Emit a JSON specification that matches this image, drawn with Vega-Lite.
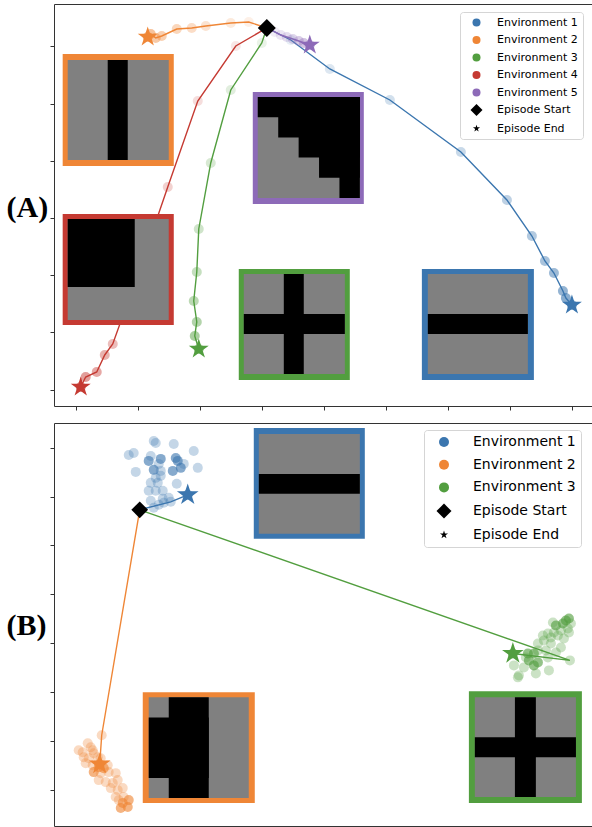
{
  "$schema": "https://vega.github.io/schema/vega-lite/v6.json",
  "padding": {"left": 5, "top": 3, "right": -1, "bottom": 0},
  "background": "white",
  "bounds": "flush",
  "spacing": 17,
  "config": {
    "font": "DejaVu Sans",
    "view": {"stroke": "#333333", "strokeWidth": 1},
    "axis": {"labels": false, "domain": false, "grid": false, "ticks": true, "tickSize": 4, "tickColor": "#333333", "tickWidth": 1}
  },
  "resolve": {
    "scale": {"color": "independent", "shape": "independent", "fill": "independent", "stroke": "independent", "opacity": "independent", "x": "independent", "y": "independent"},
    "legend": {"color": "independent", "shape": "independent"}
  },
  "datasets": {
    "a_traj": [
      {"env": "Environment 1", "step": 0, "x": -0.919, "y": 3.322},
      {"env": "Environment 1", "step": 1, "x": -0.532, "y": 3.112},
      {"env": "Environment 1", "step": 2, "x": 0.097, "y": 2.605},
      {"env": "Environment 1", "step": 3, "x": 1.065, "y": 2.063},
      {"env": "Environment 1", "step": 4, "x": 2.21, "y": 1.154},
      {"env": "Environment 1", "step": 5, "x": 2.952, "y": 0.315},
      {"env": "Environment 1", "step": 6, "x": 3.355, "y": -0.315},
      {"env": "Environment 1", "step": 7, "x": 3.565, "y": -0.752},
      {"env": "Environment 1", "step": 8, "x": 3.71, "y": -0.962},
      {"env": "Environment 1", "step": 9, "x": 3.855, "y": -1.276},
      {"env": "Environment 1", "step": 10, "x": 3.903, "y": -1.399},
      {"env": "Environment 1", "step": 11, "x": 4.0, "y": -1.521},
      {"env": "Environment 2", "step": 0, "x": -0.919, "y": 3.322},
      {"env": "Environment 2", "step": 1, "x": -1.21, "y": 3.427},
      {"env": "Environment 2", "step": 2, "x": -1.5, "y": 3.409},
      {"env": "Environment 2", "step": 3, "x": -1.903, "y": 3.357},
      {"env": "Environment 2", "step": 4, "x": -2.129, "y": 3.322},
      {"env": "Environment 2", "step": 5, "x": -2.371, "y": 3.304},
      {"env": "Environment 2", "step": 6, "x": -2.613, "y": 3.182},
      {"env": "Environment 2", "step": 7, "x": -2.71, "y": 3.147},
      {"env": "Environment 2", "step": 8, "x": -2.79, "y": 3.217},
      {"env": "Environment 2", "step": 9, "x": -2.839, "y": 3.164},
      {"env": "Environment 3", "step": 0, "x": -0.919, "y": 3.322},
      {"env": "Environment 3", "step": 1, "x": -1.0, "y": 3.059},
      {"env": "Environment 3", "step": 2, "x": -1.5, "y": 2.238},
      {"env": "Environment 3", "step": 3, "x": -1.823, "y": 0.962},
      {"env": "Environment 3", "step": 4, "x": -2.016, "y": -0.192},
      {"env": "Environment 3", "step": 5, "x": -2.048, "y": -0.944},
      {"env": "Environment 3", "step": 6, "x": -2.097, "y": -1.451},
      {"env": "Environment 3", "step": 7, "x": -2.048, "y": -1.818},
      {"env": "Environment 3", "step": 8, "x": -2.081, "y": -2.063},
      {"env": "Environment 3", "step": 9, "x": -2.016, "y": -2.29},
      {"env": "Environment 4", "step": 0, "x": -0.919, "y": 3.322},
      {"env": "Environment 4", "step": 1, "x": -1.419, "y": 3.007},
      {"env": "Environment 4", "step": 2, "x": -2.032, "y": 2.045},
      {"env": "Environment 4", "step": 3, "x": -2.516, "y": 0.542},
      {"env": "Environment 4", "step": 4, "x": -2.952, "y": -0.839},
      {"env": "Environment 4", "step": 5, "x": -3.403, "y": -2.203},
      {"env": "Environment 4", "step": 6, "x": -3.532, "y": -2.395},
      {"env": "Environment 4", "step": 7, "x": -3.661, "y": -2.692},
      {"env": "Environment 4", "step": 8, "x": -3.839, "y": -2.78},
      {"env": "Environment 4", "step": 9, "x": -3.919, "y": -2.955},
      {"env": "Environment 5", "step": 0, "x": -0.919, "y": 3.322},
      {"env": "Environment 5", "step": 1, "x": -0.79, "y": 3.252},
      {"env": "Environment 5", "step": 2, "x": -0.694, "y": 3.199},
      {"env": "Environment 5", "step": 3, "x": -0.597, "y": 3.164},
      {"env": "Environment 5", "step": 4, "x": -0.5, "y": 3.129},
      {"env": "Environment 5", "step": 5, "x": -0.403, "y": 3.094},
      {"env": "Environment 5", "step": 6, "x": -0.323, "y": 3.059},
      {"env": "Environment 5", "step": 7, "x": -0.226, "y": 3.024}
    ],
    "a_start": [{"env": "Episode Start", "x": -0.919, "y": 3.322}],
    "a_inset": [
      {"part": "border", "env": "Environment 2", "x": -4.21, "x2": -2.419, "y": 2.867, "y2": 0.909},
      {"part": "grey", "x": -4.129, "x2": -2.5, "y": 2.762, "y2": 1.014},
      {"part": "black", "x": -3.484, "x2": -3.161, "y": 2.762, "y2": 1.014},
      {"part": "border", "env": "Environment 4", "x": -4.21, "x2": -2.419, "y": 0.07, "y2": -1.871},
      {"part": "grey", "x": -4.129, "x2": -2.5, "y": -0.017, "y2": -1.783},
      {"part": "black", "x": -4.129, "x2": -3.048, "y": -0.017, "y2": -1.206},
      {"part": "border", "env": "Environment 5", "x": -1.145, "x2": 0.645, "y": 2.203, "y2": 0.245},
      {"part": "grey", "x": -1.065, "x2": 0.581, "y": 2.115, "y2": 0.35},
      {"part": "black", "x": -1.065, "x2": 0.581, "y": 2.115, "y2": 1.762},
      {"part": "black", "x": -0.735, "x2": 0.581, "y": 2.115, "y2": 1.409},
      {"part": "black", "x": -0.406, "x2": 0.581, "y": 2.115, "y2": 1.056},
      {"part": "black", "x": -0.077, "x2": 0.581, "y": 2.115, "y2": 0.703},
      {"part": "black", "x": 0.252, "x2": 0.581, "y": 2.115, "y2": 0.35},
      {"part": "border", "env": "Environment 3", "x": -1.371, "x2": 0.419, "y": -0.892, "y2": -2.832},
      {"part": "grey", "x": -1.29, "x2": 0.339, "y": -0.979, "y2": -2.727},
      {"part": "black", "x": -0.645, "x2": -0.323, "y": -0.979, "y2": -2.727},
      {"part": "black", "x": -1.29, "x2": 0.339, "y": -1.678, "y2": -2.028},
      {"part": "border", "env": "Environment 1", "x": 1.581, "x2": 3.387, "y": -0.892, "y2": -2.832},
      {"part": "grey", "x": 1.677, "x2": 3.29, "y": -0.979, "y2": -2.727},
      {"part": "black", "x": 1.677, "x2": 3.29, "y": -1.678, "y2": -2.028}
    ],
    "b_traj": [
      {"env": "Environment 1", "step": 0, "x": -2.968, "y": 2.729},
      {"env": "Environment 1", "step": 1, "x": -2.468, "y": 2.892},
      {"env": "Environment 1", "step": 2, "x": -2.742, "y": 4.134},
      {"env": "Environment 1", "step": 3, "x": -2.71, "y": 4.094},
      {"env": "Environment 1", "step": 4, "x": -2.419, "y": 4.073},
      {"env": "Environment 1", "step": 5, "x": -3.145, "y": 3.849},
      {"env": "Environment 1", "step": 6, "x": -3.065, "y": 3.89},
      {"env": "Environment 1", "step": 7, "x": -2.097, "y": 3.931},
      {"env": "Environment 1", "step": 8, "x": -2.79, "y": 3.829},
      {"env": "Environment 1", "step": 9, "x": -2.661, "y": 3.666},
      {"env": "Environment 1", "step": 10, "x": -2.258, "y": 3.666},
      {"env": "Environment 1", "step": 11, "x": -2.629, "y": 3.523},
      {"env": "Environment 1", "step": 12, "x": -2.032, "y": 3.585},
      {"env": "Environment 1", "step": 13, "x": -3.032, "y": 3.503},
      {"env": "Environment 1", "step": 14, "x": -2.71, "y": 3.381},
      {"env": "Environment 1", "step": 15, "x": -2.629, "y": 3.422},
      {"env": "Environment 1", "step": 16, "x": -2.79, "y": 3.279},
      {"env": "Environment 1", "step": 17, "x": -2.677, "y": 3.279},
      {"env": "Environment 1", "step": 18, "x": -2.371, "y": 3.259},
      {"env": "Environment 1", "step": 19, "x": -2.823, "y": 3.116},
      {"env": "Environment 1", "step": 20, "x": -2.71, "y": 3.116},
      {"env": "Environment 1", "step": 21, "x": -2.597, "y": 3.116},
      {"env": "Environment 1", "step": 22, "x": -2.79, "y": 2.912},
      {"env": "Environment 1", "step": 23, "x": -2.597, "y": 2.953},
      {"env": "Environment 1", "step": 24, "x": -2.5, "y": 2.974},
      {"env": "Environment 1", "step": 25, "x": -2.661, "y": 2.831},
      {"env": "Environment 1", "step": 26, "x": -2.581, "y": 2.872},
      {"env": "Environment 1", "step": 27, "x": -2.742, "y": 2.77},
      {"env": "Environment 1", "step": 28, "x": -2.823, "y": 3.727},
      {"env": "Environment 1", "step": 29, "x": -2.629, "y": 3.768},
      {"env": "Environment 1", "step": 30, "x": -2.387, "y": 3.788},
      {"env": "Environment 1", "step": 31, "x": -2.355, "y": 3.727},
      {"env": "Environment 1", "step": 32, "x": -2.742, "y": 3.544},
      {"env": "Environment 1", "step": 33, "x": -2.435, "y": 3.523},
      {"env": "Environment 1", "step": 34, "x": -2.306, "y": 3.585},
      {"env": "Environment 1", "step": 35, "x": -2.194, "y": 3.035},
      {"env": "Environment 2", "step": 0, "x": -2.968, "y": 2.729},
      {"env": "Environment 2", "step": 1, "x": -3.581, "y": -1.874},
      {"env": "Environment 2", "step": 2, "x": -3.952, "y": -2.179},
      {"env": "Environment 2", "step": 3, "x": -3.887, "y": -2.22},
      {"env": "Environment 2", "step": 4, "x": -3.806, "y": -2.037},
      {"env": "Environment 2", "step": 5, "x": -3.758, "y": -2.118},
      {"env": "Environment 2", "step": 6, "x": -3.726, "y": -2.179},
      {"env": "Environment 2", "step": 7, "x": -3.871, "y": -2.322},
      {"env": "Environment 2", "step": 8, "x": -3.79, "y": -2.342},
      {"env": "Environment 2", "step": 9, "x": -3.71, "y": -2.24},
      {"env": "Environment 2", "step": 10, "x": -3.645, "y": -2.322},
      {"env": "Environment 2", "step": 11, "x": -3.597, "y": -2.342},
      {"env": "Environment 2", "step": 12, "x": -3.839, "y": -2.444},
      {"env": "Environment 2", "step": 13, "x": -3.726, "y": -2.485},
      {"env": "Environment 2", "step": 14, "x": -3.484, "y": -2.485},
      {"env": "Environment 2", "step": 15, "x": -3.597, "y": -2.648},
      {"env": "Environment 2", "step": 16, "x": -3.468, "y": -2.627},
      {"env": "Environment 2", "step": 17, "x": -3.355, "y": -2.648},
      {"env": "Environment 2", "step": 18, "x": -3.629, "y": -2.79},
      {"env": "Environment 2", "step": 19, "x": -3.516, "y": -2.831},
      {"env": "Environment 2", "step": 20, "x": -3.403, "y": -2.851},
      {"env": "Environment 2", "step": 21, "x": -3.323, "y": -2.79},
      {"env": "Environment 2", "step": 22, "x": -3.435, "y": -2.953},
      {"env": "Environment 2", "step": 23, "x": -3.323, "y": -2.994},
      {"env": "Environment 2", "step": 24, "x": -3.242, "y": -2.953},
      {"env": "Environment 2", "step": 25, "x": -3.355, "y": -3.136},
      {"env": "Environment 2", "step": 26, "x": -3.306, "y": -3.198},
      {"env": "Environment 2", "step": 27, "x": -3.226, "y": -3.136},
      {"env": "Environment 2", "step": 28, "x": -3.274, "y": -3.361},
      {"env": "Environment 2", "step": 29, "x": -3.161, "y": -3.34},
      {"env": "Environment 2", "step": 30, "x": -3.242, "y": -3.259},
      {"env": "Environment 2", "step": 31, "x": -3.145, "y": -3.198},
      {"env": "Environment 2", "step": 32, "x": -3.629, "y": -2.525},
      {"env": "Environment 2", "step": 33, "x": -3.71, "y": -2.627},
      {"env": "Environment 2", "step": 34, "x": -3.548, "y": -2.546},
      {"env": "Environment 2", "step": 35, "x": -3.613, "y": -2.464},
      {"env": "Environment 3", "step": 0, "x": -2.968, "y": 2.729},
      {"env": "Environment 3", "step": 1, "x": 3.968, "y": -0.346},
      {"env": "Environment 3", "step": 2, "x": 3.694, "y": 0.428},
      {"env": "Environment 3", "step": 3, "x": 3.984, "y": 0.407},
      {"env": "Environment 3", "step": 4, "x": 3.935, "y": 0.305},
      {"env": "Environment 3", "step": 5, "x": 3.823, "y": 0.265},
      {"env": "Environment 3", "step": 6, "x": 3.71, "y": 0.224},
      {"env": "Environment 3", "step": 7, "x": 3.613, "y": 0.204},
      {"env": "Environment 3", "step": 8, "x": 3.532, "y": 0.163},
      {"env": "Environment 3", "step": 9, "x": 3.661, "y": 0.122},
      {"env": "Environment 3", "step": 10, "x": 3.774, "y": 0.163},
      {"env": "Environment 3", "step": 11, "x": 3.871, "y": 0.102},
      {"env": "Environment 3", "step": 12, "x": 3.952, "y": 0.224},
      {"env": "Environment 3", "step": 13, "x": 3.548, "y": 0.061},
      {"env": "Environment 3", "step": 14, "x": 3.452, "y": 0.0},
      {"env": "Environment 3", "step": 15, "x": 3.661, "y": 0.0},
      {"env": "Environment 3", "step": 16, "x": 3.823, "y": -0.081},
      {"env": "Environment 3", "step": 17, "x": 3.452, "y": -0.143},
      {"env": "Environment 3", "step": 18, "x": 3.581, "y": -0.143},
      {"env": "Environment 3", "step": 19, "x": 3.742, "y": -0.183},
      {"env": "Environment 3", "step": 20, "x": 3.613, "y": -0.285},
      {"env": "Environment 3", "step": 21, "x": 3.065, "y": -0.448},
      {"env": "Environment 3", "step": 22, "x": 3.226, "y": -0.489},
      {"env": "Environment 3", "step": 23, "x": 3.629, "y": -0.55},
      {"env": "Environment 3", "step": 24, "x": 3.145, "y": -0.652},
      {"env": "Environment 3", "step": 25, "x": 3.258, "y": -0.285},
      {"env": "Environment 3", "step": 26, "x": 3.419, "y": -0.611},
      {"env": "Environment 3", "step": 27, "x": 3.129, "y": -0.692},
      {"env": "Environment 3", "step": 28, "x": 3.903, "y": 0.468},
      {"env": "Environment 3", "step": 29, "x": 3.952, "y": 0.509},
      {"env": "Environment 3", "step": 30, "x": 3.855, "y": 0.407},
      {"env": "Environment 3", "step": 31, "x": 3.742, "y": 0.367},
      {"env": "Environment 3", "step": 32, "x": 3.29, "y": -0.204},
      {"env": "Environment 3", "step": 33, "x": 3.387, "y": -0.204},
      {"env": "Environment 3", "step": 34, "x": 3.306, "y": -0.346},
      {"env": "Environment 3", "step": 35, "x": 3.452, "y": -0.387},
      {"env": "Environment 3", "step": 36, "x": 3.387, "y": -0.448},
      {"env": "Environment 3", "step": 37, "x": 3.048, "y": -0.204}
    ],
    "b_start": [{"env": "Episode Start", "x": -2.968, "y": 2.729}],
    "b_inset": [
      {"part": "border", "env": "Environment 1", "x": -1.129, "x2": 0.661, "y": 4.399, "y2": 2.138},
      {"part": "grey", "x": -1.048, "x2": 0.581, "y": 4.277, "y2": 2.24},
      {"part": "black", "x": -1.048, "x2": 0.581, "y": 3.462, "y2": 3.055},
      {"part": "border", "env": "Environment 2", "x": -2.919, "x2": -1.113, "y": -0.998, "y2": -3.259},
      {"part": "grey", "x": -2.823, "x2": -1.21, "y": -1.1, "y2": -3.157},
      {"part": "black", "x": -2.823, "x2": -1.855, "y": -1.511, "y2": -2.745},
      {"part": "black", "x": -2.5, "x2": -1.855, "y": -1.1, "y2": -3.157},
      {"part": "border", "env": "Environment 3", "x": 2.339, "x2": 4.161, "y": -0.978, "y2": -3.259},
      {"part": "grey", "x": 2.435, "x2": 4.065, "y": -1.1, "y2": -3.136},
      {"part": "black", "x": 3.081, "x2": 3.419, "y": -1.1, "y2": -3.136},
      {"part": "black", "x": 2.435, "x2": 4.065, "y": -1.914, "y2": -2.322}
    ]
  },
  "vconcat": [
    {
      "width": 539,
      "height": 402,
      "encoding": {
        "x": {"field": "x", "type": "quantitative", "scale": {"domain": [-4.35, 4.34], "nice": false, "zero": false}, "axis": {"values": [-4, -3, -2, -1, 0, 1, 2, 3, 4], "title": null}},
        "y": {"field": "y", "type": "quantitative", "scale": {"domain": [-3.287, 3.741], "nice": false, "zero": false}, "axis": {"values": [-3, -2, -1, 0, 1, 2, 3], "title": "(A)", "titleAngle": 0, "titleFont": "Liberation Serif", "titleFontWeight": "bold", "titleFontSize": 30, "titleAlign": "left", "titleBaseline": "middle", "titleColor": "black", "titleX": -48, "titleY": 203.5}}
      },
      "layer": [
        {
          "data": {"name": "a_traj"},
          "mark": {"type": "line", "strokeWidth": 1.4},
          "encoding": {
            "stroke": {"field": "env", "type": "nominal", "scale": {"domain": ["Environment 1", "Environment 2", "Environment 3", "Environment 4", "Environment 5"], "range": ["#3b76af", "#ef8636", "#529e3f", "#c53a32", "#8d6ab8"]}, "legend": null},
            "order": {"field": "step", "type": "quantitative"}
          }
        },
        {
          "data": {"name": "a_traj"},
          "transform": [{"filter": "datum.step > 0"}],
          "mark": {"type": "point", "filled": true, "size": 100, "strokeWidth": 0},
          "encoding": {
            "color": {"field": "env", "type": "nominal", "scale": {"domain": ["Environment 1", "Environment 2", "Environment 3", "Environment 4", "Environment 5", "Episode Start", "Episode End"], "range": ["#3b76af", "#ef8636", "#529e3f", "#c53a32", "#8d6ab8", "#000000", "#000000"]},
              "legend": {"orient": "none", "legendX": 406, "legendY": 8, "title": null, "fillColor": "white", "strokeColor": "#d5d5d5", "cornerRadius": 3, "padding": 5, "labelFont": "DejaVu Sans", "labelFontSize": 11, "labelColor": "black", "rowPadding": 5.5, "labelOffset": 15, "symbolOffset": 6, "symbolOpacity": 1, "symbolStrokeWidth": 0, "symbolSize": 64,
                "encode": {"symbols": {"update": {"size": {"signal": "datum.value === 'Episode Start' ? 144 : datum.value === 'Episode End' ? 55 : 64"}}}}}},
            "shape": {"field": "env", "type": "nominal", "scale": {"domain": ["Environment 1", "Environment 2", "Environment 3", "Environment 4", "Environment 5", "Episode Start", "Episode End"], "range": ["circle", "circle", "circle", "circle", "circle", "diamond", "M0,-1L0.225,-0.309L0.951,-0.309L0.363,0.118L0.588,0.809L0,0.382L-0.588,0.809L-0.363,0.118L-0.951,-0.309L-0.225,-0.309Z"]}},
            "opacity": {"field": "step", "type": "quantitative", "scale": {"domain": [1, 10], "range": [0.12, 0.6], "clamp": true}, "legend": null}
          }
        },
        {
          "data": {"name": "a_traj"},
          "transform": [
            {"joinaggregate": [{"op": "max", "field": "step", "as": "last"}], "groupby": ["env"]},
            {"filter": "datum.step === datum.last"}
          ],
          "mark": {"type": "point", "filled": true, "size": 440, "strokeWidth": 0, "opacity": 1, "shape": "M0,-1L0.225,-0.309L0.951,-0.309L0.363,0.118L0.588,0.809L0,0.382L-0.588,0.809L-0.363,0.118L-0.951,-0.309L-0.225,-0.309Z"},
          "encoding": {
            "fill": {"field": "env", "type": "nominal", "scale": {"domain": ["Environment 1", "Environment 2", "Environment 3", "Environment 4", "Environment 5"], "range": ["#3b76af", "#ef8636", "#529e3f", "#c53a32", "#8d6ab8"]}, "legend": null}
          }
        },
        {
          "data": {"name": "a_start"},
          "mark": {"type": "point", "filled": true, "size": 324, "strokeWidth": 0, "opacity": 1},
          "encoding": {
            "color": {"field": "env", "type": "nominal", "scale": {"domain": ["Environment 1", "Environment 2", "Environment 3", "Environment 4", "Environment 5", "Episode Start", "Episode End"], "range": ["#3b76af", "#ef8636", "#529e3f", "#c53a32", "#8d6ab8", "#000000", "#000000"]}},
            "shape": {"field": "env", "type": "nominal", "scale": {"domain": ["Environment 1", "Environment 2", "Environment 3", "Environment 4", "Environment 5", "Episode Start", "Episode End"], "range": ["circle", "circle", "circle", "circle", "circle", "diamond", "M0,-1L0.225,-0.309L0.951,-0.309L0.363,0.118L0.588,0.809L0,0.382L-0.588,0.809L-0.363,0.118L-0.951,-0.309L-0.225,-0.309Z"]}}
          }
        },
        {
          "data": {"name": "a_inset"},
          "transform": [{"filter": "datum.part === 'border'"}],
          "mark": {"type": "rect"},
          "encoding": {
            "x2": {"field": "x2"}, "y2": {"field": "y2"},
            "fill": {"field": "env", "type": "nominal", "scale": {"domain": ["Environment 1", "Environment 2", "Environment 3", "Environment 4", "Environment 5"], "range": ["#3b76af", "#ef8636", "#529e3f", "#c53a32", "#8d6ab8"]}, "legend": null}
          }
        },
        {
          "data": {"name": "a_inset"},
          "transform": [{"filter": "datum.part === 'grey'"}],
          "mark": {"type": "rect", "color": "#808080"},
          "encoding": {"x2": {"field": "x2"}, "y2": {"field": "y2"}}
        },
        {
          "data": {"name": "a_inset"},
          "transform": [{"filter": "datum.part === 'black'"}],
          "mark": {"type": "rect", "color": "#000000"},
          "encoding": {"x2": {"field": "x2"}, "y2": {"field": "y2"}}
        }
      ]
    },
    {
      "width": 539,
      "height": 403,
      "encoding": {
        "x": {"field": "x", "type": "quantitative", "scale": {"domain": [-4.35, 4.34], "nice": false, "zero": false}, "axis": null},
        "y": {"field": "y", "type": "quantitative", "scale": {"domain": [-3.727, 4.501], "nice": false, "zero": false}, "axis": {"values": [-3, -2, -1, 0, 1, 2, 3, 4], "title": "(B)", "titleAngle": 0, "titleFont": "Liberation Serif", "titleFontWeight": "bold", "titleFontSize": 30, "titleAlign": "left", "titleBaseline": "middle", "titleColor": "black", "titleX": -48, "titleY": 202.5}}
      },
      "layer": [
        {
          "data": {"name": "b_traj"},
          "transform": [
            {"joinaggregate": [{"op": "max", "field": "step", "as": "last"}], "groupby": ["env"]},
            {"filter": "datum.step <= 1 || datum.step === datum.last"}
          ],
          "mark": {"type": "line", "strokeWidth": 1.4},
          "encoding": {
            "stroke": {"field": "env", "type": "nominal", "scale": {"domain": ["Environment 1", "Environment 2", "Environment 3"], "range": ["#3b76af", "#ef8636", "#529e3f"]}, "legend": null},
            "order": {"field": "step", "type": "quantitative"}
          }
        },
        {
          "data": {"name": "b_traj"},
          "transform": [{"filter": "datum.step > 0"}],
          "mark": {"type": "point", "filled": true, "size": 100, "strokeWidth": 0},
          "encoding": {
            "color": {"field": "env", "type": "nominal", "scale": {"domain": ["Environment 1", "Environment 2", "Environment 3", "Episode Start", "Episode End"], "range": ["#3b76af", "#ef8636", "#529e3f", "#000000", "#000000"]},
              "legend": {"orient": "none", "legendX": 370, "legendY": 7, "title": null, "fillColor": "white", "strokeColor": "#d5d5d5", "cornerRadius": 3, "padding": 5, "labelFont": "DejaVu Sans", "labelFontSize": 14, "labelColor": "black", "rowPadding": 8.7, "labelOffset": 22, "symbolOffset": 8, "symbolOpacity": 1, "symbolStrokeWidth": 0, "symbolSize": 100,
                "encode": {"symbols": {"update": {"size": {"signal": "datum.value === 'Episode Start' ? 225 : datum.value === 'Episode End' ? 72 : 100"}}}}}},
            "shape": {"field": "env", "type": "nominal", "scale": {"domain": ["Environment 1", "Environment 2", "Environment 3", "Episode Start", "Episode End"], "range": ["circle", "circle", "circle", "diamond", "M0,-1L0.225,-0.309L0.951,-0.309L0.363,0.118L0.588,0.809L0,0.382L-0.588,0.809L-0.363,0.118L-0.951,-0.309L-0.225,-0.309Z"]}},
            "opacity": {"field": "step", "type": "quantitative", "scale": {"type": "threshold", "domain": [28], "range": [0.3, 0.62]}, "legend": null}
          }
        },
        {
          "data": {"name": "b_traj"},
          "transform": [
            {"joinaggregate": [{"op": "max", "field": "step", "as": "last"}], "groupby": ["env"]},
            {"filter": "datum.step === datum.last"}
          ],
          "mark": {"type": "point", "filled": true, "size": 520, "strokeWidth": 0, "opacity": 1, "shape": "M0,-1L0.225,-0.309L0.951,-0.309L0.363,0.118L0.588,0.809L0,0.382L-0.588,0.809L-0.363,0.118L-0.951,-0.309L-0.225,-0.309Z"},
          "encoding": {
            "fill": {"field": "env", "type": "nominal", "scale": {"domain": ["Environment 1", "Environment 2", "Environment 3"], "range": ["#3b76af", "#ef8636", "#529e3f"]}, "legend": null}
          }
        },
        {
          "data": {"name": "b_start"},
          "mark": {"type": "point", "filled": true, "size": 280, "strokeWidth": 0, "opacity": 1},
          "encoding": {
            "color": {"field": "env", "type": "nominal", "scale": {"domain": ["Environment 1", "Environment 2", "Environment 3", "Episode Start", "Episode End"], "range": ["#3b76af", "#ef8636", "#529e3f", "#000000", "#000000"]}},
            "shape": {"field": "env", "type": "nominal", "scale": {"domain": ["Environment 1", "Environment 2", "Environment 3", "Episode Start", "Episode End"], "range": ["circle", "circle", "circle", "diamond", "M0,-1L0.225,-0.309L0.951,-0.309L0.363,0.118L0.588,0.809L0,0.382L-0.588,0.809L-0.363,0.118L-0.951,-0.309L-0.225,-0.309Z"]}}
          }
        },
        {
          "data": {"name": "b_inset"},
          "transform": [{"filter": "datum.part === 'border'"}],
          "mark": {"type": "rect"},
          "encoding": {
            "x2": {"field": "x2"}, "y2": {"field": "y2"},
            "fill": {"field": "env", "type": "nominal", "scale": {"domain": ["Environment 1", "Environment 2", "Environment 3"], "range": ["#3b76af", "#ef8636", "#529e3f"]}, "legend": null}
          }
        },
        {
          "data": {"name": "b_inset"},
          "transform": [{"filter": "datum.part === 'grey'"}],
          "mark": {"type": "rect", "color": "#808080"},
          "encoding": {"x2": {"field": "x2"}, "y2": {"field": "y2"}}
        },
        {
          "data": {"name": "b_inset"},
          "transform": [{"filter": "datum.part === 'black'"}],
          "mark": {"type": "rect", "color": "#000000"},
          "encoding": {"x2": {"field": "x2"}, "y2": {"field": "y2"}}
        }
      ]
    }
  ]
}
